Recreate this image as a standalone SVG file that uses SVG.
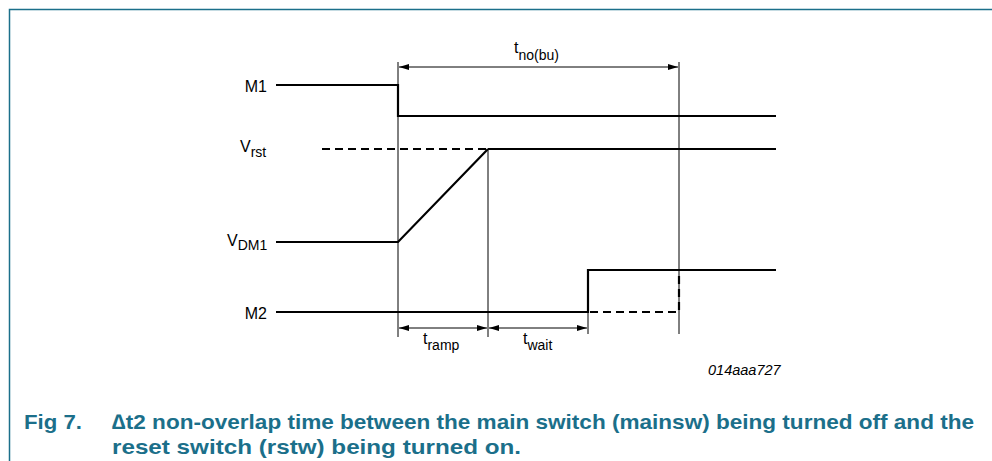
<svg xmlns="http://www.w3.org/2000/svg" width="992" height="461" viewBox="0 0 992 461">
  <defs>
    <marker id="arr" viewBox="0 0 10 6" refX="10" refY="3" markerWidth="11" markerHeight="6" markerUnits="userSpaceOnUse" orient="auto-start-reverse">
      <path d="M0,0 L10,3 L0,6 z" fill="#000"/>
    </marker>
    <style>
      .frame { stroke: #1b6f8a; stroke-width: 1.5; fill: none; }
      .sig { stroke: #000; stroke-width: 2.2; fill: none; }
      .dash { stroke: #000; stroke-width: 2.2; fill: none; stroke-dasharray: 8 5; }
      .thin { stroke: #000; stroke-width: 1; fill: none; }
      .dim { stroke: #000; stroke-width: 1; fill: none; marker-start: url(#arr); marker-end: url(#arr); }
      .lbl { font-family: "Liberation Sans", Arial, sans-serif; font-size: 16px; fill: #000; }
      .sub { font-size: 14px; }
      .code { font-family: "Liberation Sans", Arial, sans-serif; font-size: 14.5px; font-style: italic; fill: #000; }
      .cap { font-family: "Liberation Sans Narrow", "Liberation Sans", Arial, sans-serif; font-size: 21px; font-weight: bold; fill: #1b6f8a; }
    </style>
  </defs>

  <!-- figure frame -->
  <path class="frame" d="M9.5,461 V9.5 H992"/>

  <!-- timing reference lines -->
  <g id="guides">
    <line class="thin" x1="398" y1="62" x2="398" y2="337"/>
    <line class="thin" x1="488" y1="149" x2="488" y2="337"/>
    <line class="thin" x1="588" y1="312" x2="588" y2="334"/>
    <line class="thin" x1="679" y1="62" x2="679" y2="334"/>
  </g>

  <!-- signal waveforms -->
  <g id="m1">
    <path class="sig" d="M276,85 H398 V116 H776"/>
    <text class="lbl" x="267" y="92" text-anchor="end">M1</text>
  </g>
  <g id="vrst">
    <path class="dash" d="M322,149 H488"/>
    <path class="sig" d="M488,149 H776"/>
    <text class="lbl" x="240" y="152">V<tspan class="sub" dy="5">rst</tspan></text>
  </g>
  <g id="vdm1">
    <path class="sig" d="M276,242 H398 L488,149"/>
    <text class="lbl" x="227" y="246">V<tspan class="sub" dy="4">DM1</tspan></text>
  </g>
  <g id="m2">
    <path class="sig" d="M276,312 H588 V270 H776"/>
    <path class="dash" d="M590,312 H679 V270"/>
    <text class="lbl" x="267" y="319" text-anchor="end">M2</text>
  </g>

  <!-- time intervals -->
  <g id="connectors">
    <line class="dim" x1="399" y1="67" x2="678" y2="67"/>
    <line class="dim" x1="399" y1="328" x2="487" y2="328"/>
    <line class="dim" x1="489" y1="328" x2="587" y2="328"/>
  </g>
  <g id="t-nobu">
    <text class="lbl" x="514" y="53">t<tspan class="sub" dy="7">no(bu)</tspan></text>
  </g>
  <g id="t-ramp">
    <text class="lbl" x="423" y="344">t<tspan class="sub" dy="6">ramp</tspan></text>
  </g>
  <g id="t-wait">
    <text class="lbl" x="523" y="344">t<tspan class="sub" dy="6">wait</tspan></text>
  </g>

  <text class="code" x="708" y="375">014aaa727</text>

  <!-- caption -->
  <text class="cap" x="24" y="429" textLength="58" lengthAdjust="spacingAndGlyphs">Fig 7.</text>
  <text class="cap" x="112" y="429" textLength="862" lengthAdjust="spacingAndGlyphs">∆t2 non-overlap time between the main switch (mainsw) being turned off and the</text>
  <text class="cap" x="112" y="454" textLength="409" lengthAdjust="spacingAndGlyphs">reset switch (rstw) being turned on.</text>
</svg>
